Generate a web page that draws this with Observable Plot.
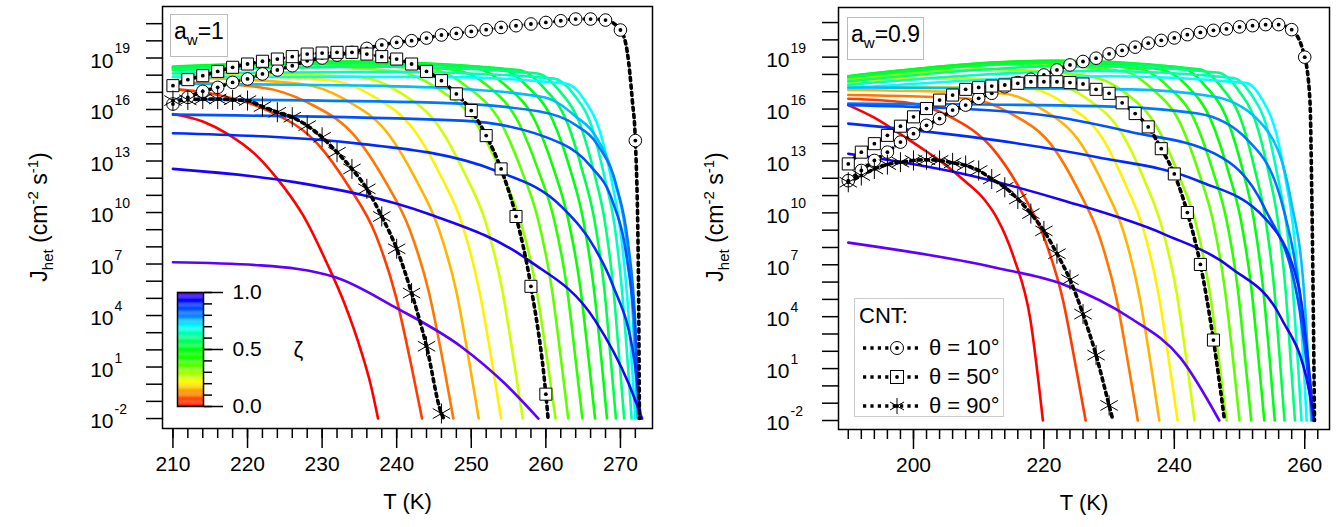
<!DOCTYPE html>
<html>
<head>
<meta charset="utf-8">
<script src="https://cdn.jsdelivr.net/npm/d3@7"></script>
<script src="https://cdn.jsdelivr.net/npm/@observablehq/plot@0.6"></script>
<style>
  body { margin: 0; background: white; font-family: "Liberation Sans", Arial, sans-serif; }
  #wrap { position: relative; width: 1344px; height: 527px; overflow: hidden; }
  .panel { position: absolute; top: 0; }
  .ylab { position: absolute; top: 217px; transform: translate(-50%, -50%) rotate(-90deg); white-space: nowrap; font-size: 23px; }
  .ylab sub { font-size: 15px; } .ylab sup { font-size: 15px; }
  .aw { position: absolute; border: 1px solid #bbb; font-size: 23px; padding: 0 3px; line-height: 32px; background: white; }
  .aw sub { font-size: 15px; }
  #legend { position: absolute; left: 854px; top: 298px; width: 148px; height: 117px; border: 1px solid #ccc; background: white; font-size: 22px; }
  #legend .row { display: flex; align-items: center; height: 29px; }
  #legend .row span { margin-left: 8px; }
  #cbar { position: absolute; left: 172px; top: 286px; }
</style>
</head>
<body>
<div id="wrap">
  <div id="left" class="panel" style="left:0"></div>
  <div id="right" class="panel" style="left:672px"></div>
  <div class="ylab" style="left:40px">J<sub>het</sub> (cm<sup>-2</sup> s<sup>-1</sup>)</div>
  <div class="ylab" style="left:716px">J<sub>het</sub> (cm<sup>-2</sup> s<sup>-1</sup>)</div>
  <div class="aw" style="left:170px;top:14px">a<sub>w</sub>=1</div>
  <div class="aw" style="left:847px;top:17px">a<sub>w</sub>=0.9</div>
  <div id="cbar"></div>
  <div id="legend"></div>
</div>
<script>
// ζ of each coloured curve
const zetas = [0, 0.05, 0.1, 0.15, 0.2, 0.25, 0.3, 0.35, 0.4, 0.45, 0.5,
  0.55, 0.6, 0.65, 0.7, 0.75, 0.8, 0.85, 0.9, 0.95, 1.0];

// a_w = 1 : [T (K), log10 J] per ζ
const leftCurves = [
  [[210,15.74],[214,15.3],[217.3,14.58],[221,13.4],[224,11.96],[227.5,9.8],[230.8,6.9],[233,4.7],[235.2,1.97],[236.5,0],[237.5,-2]],
  [[210,17.2],[215.4,16.9],[222.4,16.0],[229.4,14.0],[233.6,11.5],[237.1,8.8],[239.9,5.1],[242,1.0],[243.4,-2]],
  [[210,17.6],[221.6,17.3],[228.1,16.4],[234.6,14.35],[238.5,11.8],[241.75,9.0],[244.35,5.3],[246.3,1.1],[247.6,-2]],
  [[210,17.9],[227,17.5],[233,16.6],[239,14.5],[242.6,11.9],[245.6,9.1],[248,5.4],[249.8,1.1],[251,-2]],
  [[210,18.1],[231,17.7],[236.75,16.8],[242.5,14.7],[245.95,12.1],[248.8,9.3],[251.1,5.4],[252.85,1.1],[254,-2]],
  [[210,18.2],[234.9,17.9],[240.4,17.0],[245.9,14.85],[249.2,12.2],[251.95,9.4],[254.15,5.5],[255.8,1.1],[256.9,-2]],
  [[210,18.3],[225,18.6],[240.3,18.2],[245.55,17.2],[250.8,15.1],[253.95,12.4],[256.6,9.5],[258.7,5.6],[260.25,1.2],[261.3,-2]],
  [[210,18.35],[228,18.7],[245,18.3],[249.5,17.3],[254,15.2],[256.7,12.5],[258.95,9.6],[260.75,5.7],[262.1,1.2],[263,-2]],
  [[210,18.4],[230,18.75],[247.9,18.3],[252.15,17.4],[256.4,15.2],[258.95,12.5],[261.1,9.6],[262.8,5.7],[264.05,1.2],[264.9,-2]],
  [[210,18.45],[232,18.8],[250.6,18.4],[254.6,17.4],[258.6,15.3],[261,12.6],[263,9.6],[264.6,5.7],[265.8,1.2],[266.6,-2]],
  [[210,18.5],[234,18.8],[253.8,18.4],[257.4,17.4],[261,15.3],[263.2,12.6],[265,9.6],[266.4,5.7],[267.5,1.2],[268.2,-2]],
  [[210,18.45],[236,18.7],[256.4,18.3],[259.65,17.3],[262.9,15.2],[264.85,12.5],[266.5,9.6],[267.8,5.7],[268.75,1.2],[269.4,-2]],
  [[210,18.3],[238,18.5],[258.9,18.1],[261.8,17.1],[264.7,15.0],[266.45,12.35],[267.9,9.5],[269.05,5.6],[269.9,1.2],[270.5,-2]],
  [[210,18.1],[240,18.2],[261.1,17.8],[263.7,16.9],[266.3,14.8],[267.85,12.1],[269.2,9.3],[270.2,5.5],[271,1.1],[271.5,-2]],
  [[210,17.9],[245,17.9],[262.8,17.5],[265.1,16.6],[267.4,14.5],[268.8,11.9],[269.95,9.1],[270.85,5.4],[271.55,1.1],[272,-2]],
  [[210,17.5],[235,17.4],[248.7,17.2],[259.9,16.7],[264,15.6],[266.6,14.5],[269.3,11.7],[270.7,8.8],[271.6,4.5],[272.3,-2]],
  [[210,16.6],[245,16.4],[259,15.9],[264,15.1],[267,13.9],[269.5,11.5],[271,8.3],[272,3.5],[272.5,-2]],
  [[210,15.7],[248.7,15.35],[262.2,14.0],[266,12.7],[268.9,10.7],[270.8,7.5],[272,2.9],[272.6,-2]],
  [[210,14.62],[235.2,14.0],[253.2,12.45],[262.2,10.3],[266.6,7.9],[268.9,5.85],[272,1.0],[272.7,-2]],
  [[210,12.54],[226.3,11.77],[244.2,9.93],[257.7,7.21],[266.6,3.72],[271.1,0.04],[272.9,-2]],
  [[210,7.1],[221.8,6.92],[231.7,6.24],[239.7,4.5],[248.7,2.17],[254.5,0.04],[259,-2]]
];

// a_w = 0.9
const rightCurves = [
  [[190,16.23],[194,15.5],[197.4,14.7],[201,13.8],[204.1,13.0],[208,11.8],[210.8,10.8],[212.8,9.7],[215.4,7.4],[217.9,3.9],[219.85,-2]],
  [[190,16.6],[198.4,16.4],[205.4,15.6],[212.4,13.6],[216.6,11.2],[220.1,8.5],[222.9,5.0],[225,0.9],[226.4,-2]],
  [[190,16.81],[208.4,16.6],[214.9,15.75],[221.4,13.8],[225.3,11.3],[228.55,8.6],[231.15,5.0],[233.1,0.9],[234.4,-2]],
  [[190,17.1],[213.7,16.9],[219.7,16.0],[225.7,14.0],[229.3,11.5],[232.3,8.8],[234.7,5.1],[236.5,1.0],[237.7,-2]],
  [[190,17.3],[217.5,17.2],[223.25,16.3],[229,14.3],[232.45,11.7],[235.3,9.0],[237.6,5.25],[239.35,1.0],[240.5,-2]],
  [[190,17.5],[200,17.8],[221.1,17.5],[226.6,16.6],[232.1,14.5],[235.4,11.9],[238.15,9.1],[240.35,5.4],[242,1.1],[243.1,-2]],
  [[190,17.7],[212,18.3],[227,17.9],[232.25,17.0],[237.5,14.85],[240.65,12.2],[243.3,9.4],[245.4,5.5],[246.95,1.15],[248,-2]],
  [[190,17.8],[215,18.6],[232,18.2],[236.5,17.2],[241,15.1],[243.7,12.4],[245.95,9.5],[247.75,5.6],[249.1,1.2],[250,-2]],
  [[190,17.85],[218,18.7],[234.8,18.3],[239.05,17.3],[243.3,15.2],[245.85,12.5],[248,9.6],[249.7,5.7],[250.95,1.2],[251.8,-2]],
  [[190,17.9],[220,18.75],[237.8,18.3],[241.8,17.4],[245.8,15.2],[248.2,12.5],[250.2,9.6],[251.8,5.7],[253,1.2],[253.8,-2]],
  [[190,17.9],[222,18.8],[241,18.4],[244.6,17.4],[248.2,15.3],[250.4,12.6],[252.2,9.6],[253.6,5.7],[254.7,1.2],[255.4,-2]],
  [[190,17.85],[224,18.7],[243.9,18.3],[247.15,17.3],[250.4,15.2],[252.35,12.5],[254,9.6],[255.3,5.7],[256.25,1.2],[256.9,-2]],
  [[190,17.6],[226,18.5],[246.9,18.1],[249.8,17.1],[252.7,15.0],[254.45,12.35],[255.9,9.5],[257.05,5.6],[257.9,1.2],[258.5,-2]],
  [[190,17.4],[228,18.2],[249.1,17.8],[251.7,16.9],[254.3,14.8],[255.85,12.1],[257.2,9.3],[258.2,5.5],[259,1.1],[259.5,-2]],
  [[190,17.2],[230,17.9],[251.1,17.5],[253.4,16.6],[255.7,14.5],[257.1,11.9],[258.25,9.1],[259.15,5.4],[259.85,1.1],[260.3,-2]],
  [[190,17.25],[233.3,17.14],[246.2,16.71],[253.8,14.97],[257.9,10.7],[260,4.88],[261,-2]],
  [[190,16.32],[228.2,16.17],[243.6,15.74],[251.3,14.19],[256.4,10.7],[260,2.94],[261.2,-2]],
  [[190,16.23],[217.9,15.74],[233.3,14.68],[246.2,13.42],[253.8,10.31],[259,4.88],[261.3,-2]],
  [[190,15.16],[212.8,14.19],[228.2,13.22],[243.6,11.86],[253.8,9.73],[259,5.85],[261.4,-2]],
  [[190,13.42],[207.7,12.25],[223.1,10.7],[238.5,8.76],[248.7,6.82],[256.4,3.91],[260.5,0.04],[261.5,-2]],
  [[190,8.28],[212.8,6.82],[223.1,5.85],[233.3,3.91],[241,1.59],[246.9,-2]]
];

// CNT curves, markers every 2 K (log10 J), plus line-only points
const leftT10 = [16.32,16.71,17.06,17.29,17.58,17.78,18.07,18.30,18.55,18.84,19.0,19.17,19.33,19.56,19.76,19.91,20.01,20.16,20.34,20.43,20.55,20.65,20.78,20.88,20.98,21.07,21.17,21.27,21.27,21.21,20.63,14.19];
const leftT10Extra = [[270.9,19.4],[271.6,16.5],[272.4,6.8],[272.55,-2]];
const leftT50 = [17.39,17.74,17.97,18.22,18.46,18.65,18.81,18.94,19.08,19.23,19.29,19.33,19.33,19.23,19.08,18.94,18.65,18.22,17.68,16.91,15.94,14.48,12.54,9.77,5.70,-0.58];
const leftT50Extra = [[260.3,-2]];
const leftT90 = [16.52,16.56,16.61,16.61,16.56,16.52,16.17,15.84,15.55,15.06,14.38,13.51,12.54,11.38,9.77,7.89,5.31,2.21,-1.71];
const leftT90Extra = [[246.3,-2]];

const rightT10 = [11.86,12.45,13.03,13.51,14.09,14.58,15.06,15.45,15.94,16.23,16.62,16.91,17.29,17.53,17.72,17.97,18.26,18.55,18.75,18.94,19.19,19.39,19.58,19.81,19.97,20.11,20.30,20.43,20.55,20.63,20.75,20.82,20.88,20.88,20.59,19.0];
const rightT10Extra = [[260.8,16.5],[261.1,10.7],[261.5,-2]];
const rightT50 = [12.83,13.51,14.0,14.48,15.01,15.55,16.03,16.52,16.81,17.14,17.25,17.33,17.39,17.49,17.58,17.58,17.58,17.53,17.45,17.14,16.91,16.36,15.74,14.97,13.71,12.25,10.02,7.02,2.65];
const rightT50Extra = [[247.7,-2]];
const rightT90 = [11.77,12.16,12.54,12.79,12.93,13.03,13.07,13.03,12.89,12.74,12.45,11.96,11.48,10.80,9.96,8.96,7.64,6.14,4.15,1.78,-1.13];
const rightT90Extra = [[230.6,-2]];

const decadesAll = d3.range(-2, 22);
const decadesLabel = [-2, 1, 4, 7, 10, 13, 16, 19];

const hue = d3.scaleLinear()
  .domain([0, 0.1, 0.2, 0.3, 0.4, 0.5, 0.6, 0.7, 0.75, 0.8, 0.9, 1])
  .range([0, 28, 57, 85, 110, 125, 150, 180, 195, 212, 230, 262]);
const color = (z) => d3.hsl(hue(z), 1, 0.5).formatHex();

const font = "Liberation Sans, Arial, sans-serif";

function cntRows(vals, t0, extra) {
  const marks = vals.map((v, i) => ({T: t0 + 2 * i, v}));
  const line = marks.concat(extra.map(([T, v]) => ({T, v}))).sort((a, b) => a.T - b.T);
  return {marks, line};
}

function panel(el, curves, cnt, opts) {
  const rows = curves.flatMap((pts, i) => pts.map(([T, v]) => ({T, v, z: zetas[i]})));
  const J = (d) => 10 ** d.v;
  const dotted = {x: "T", y: J, stroke: "black", strokeWidth: 3.6, strokeDasharray: "3.2,4.2", curve: "monotone-x"};
  const [c10, c50, c90] = cnt;
  const plot = Plot.plot({
    width: 672,
    height: 527,
    marginTop: opts.top,
    marginBottom: 527 - opts.bottom,
    marginLeft: opts.left,
    marginRight: opts.right,
    style: {fontFamily: font, background: "transparent", color: "black"},
    x: {domain: opts.xDomain, label: null},
    y: {type: "log", domain: opts.yDomain, label: null},
    marks: [
      Plot.axisX({ticks: opts.xMinor, tickSize: 10, tickFormat: () => "", strokeWidth: 1.5, label: null}),
      Plot.axisX({ticks: opts.xMajor, tickSize: 20, tickPadding: 8, fontSize: 21, strokeWidth: 1.5, label: null}),
      Plot.axisY({ticks: decadesAll.map((d) => 10 ** d), tickSize: 16, tickFormat: () => "", strokeWidth: 1.5, label: null}),
      Plot.text(decadesLabel, {y: (d) => 10 ** d, text: () => "10", frameAnchor: "left", dx: -49, dy: 3, textAnchor: "end", fontSize: 21}),
      Plot.text(decadesLabel, {y: (d) => 10 ** d, text: (d) => String(d), frameAnchor: "left", dx: -48, dy: -9, textAnchor: "start", fontSize: 14}),
      Plot.text(["T (K)"], {frameAnchor: "bottom", dy: 80, fontSize: 22}),
      Plot.line(rows, {x: "T", y: J, z: "z", stroke: (d) => color(d.z), strokeWidth: 2.6, curve: "monotone-x", clip: true}),
      Plot.line(c10.line, {...dotted, clip: true}),
      Plot.line(c50.line, {...dotted, clip: true}),
      Plot.line(c90.line, {...dotted, clip: true}),
      Plot.dot(c10.marks, {x: "T", y: J, r: 6.3, stroke: "black", fill: "white", strokeWidth: 1}),
      Plot.dot(c10.marks, {x: "T", y: J, r: 1.9, fill: "black"}),
      Plot.dot(c50.marks, {x: "T", y: J, r: 6.8, symbol: "square", stroke: "black", fill: "white", strokeWidth: 1}),
      Plot.dot(c50.marks, {x: "T", y: J, r: 1.9, fill: "black"}),
      Plot.dot(c90.marks, {x: "T", y: J, r: 9.5, symbol: "asterisk", stroke: "black", strokeWidth: 1}),
      Plot.dot(c90.marks, {x: "T", y: J, r: 1.9, fill: "black"}),
      Plot.frame({stroke: "black", strokeWidth: 1.5})
    ]
  });
  el.append(plot);
}

panel(document.getElementById("left"), leftCurves,
  [cntRows(leftT10, 210, leftT10Extra), cntRows(leftT50, 210, leftT50Extra), cntRows(leftT90, 210, leftT90Extra)],
  {top: 6, bottom: 428, left: 162, right: 20, xDomain: [208.6, 274.3],
   yDomain: [10 ** -2.58, 10 ** 22], xMajor: d3.range(210, 271, 10), xMinor: d3.range(210, 274, 2)});

panel(document.getElementById("right"), rightCurves,
  [cntRows(rightT10, 190, rightT10Extra), cntRows(rightT50, 190, rightT50Extra), cntRows(rightT90, 190, rightT90Extra)],
  {top: 7, bottom: 429, left: 166, right: 15, xDomain: [188.5, 263.8],
   yDomain: [10 ** -2.52, 10 ** 21.87], xMajor: [200, 220, 240, 260], xMinor: d3.range(190, 263, 2)});

// colour bar for ζ
const steps = d3.range(0, 1, 0.01);
document.getElementById("cbar").append(Plot.plot({
  width: 150, height: 130, marginTop: 6, marginBottom: 10, marginLeft: 5, marginRight: 119,
  style: {fontFamily: font, background: "transparent", color: "black", overflow: "visible"},
  x: {domain: [0, 1], axis: null},
  y: {domain: [0, 1], axis: null},
  marks: [
    Plot.rect(steps, {x1: 0, x2: 1, y1: (d) => d, y2: (d) => d + 0.011, fill: (d) => color(d + 0.005)}),
    Plot.frame({stroke: "black", strokeWidth: 1.5}),
    Plot.axisY({anchor: "right", ticks: d3.range(0, 1.01, 0.1), tickSize: 8, tickFormat: () => "", strokeWidth: 1.5, label: null}),
    Plot.axisY({anchor: "right", ticks: [0, 0.5, 1], tickSize: 19, tickPadding: 10, tickFormat: ".1f", fontSize: 21, strokeWidth: 1.5, label: null}),
    Plot.text(["ζ"], {x: 1, y: 0.5, dx: 90, fontSize: 22, textAnchor: "start"})
  ]
}));

// CNT legend
const legendItems = [["circle", "θ = 10°"], ["square", "θ = 50°"], ["asterisk", "θ = 90°"]];
const lg = document.getElementById("legend");
lg.innerHTML = '<div style="padding:4px 0 0 4px;height:30px">CNT:</div>';
legendItems.forEach(([sym, label]) => {
  const mk = sym === "circle"
    ? '<circle cx="36" cy="10" r="6.5" fill="white" stroke="black"/>'
    : sym === "square"
    ? '<rect x="29.5" y="3.5" width="13" height="13" fill="white" stroke="black"/>'
    : '<path d="M36 2V18M29 6L43 14M29 14L43 6" stroke="black"/>';
  lg.insertAdjacentHTML("beforeend",
    `<div class="row"><svg width="60" height="20" style="margin-left:6px"><line x1="2" y1="10" x2="58" y2="10" stroke="black" stroke-width="3.6" stroke-dasharray="3.2,4.2"/>${mk}<circle cx="36" cy="10" r="1.9"/></svg><span>${label}</span></div>`);
});
</script>
</body>
</html>
